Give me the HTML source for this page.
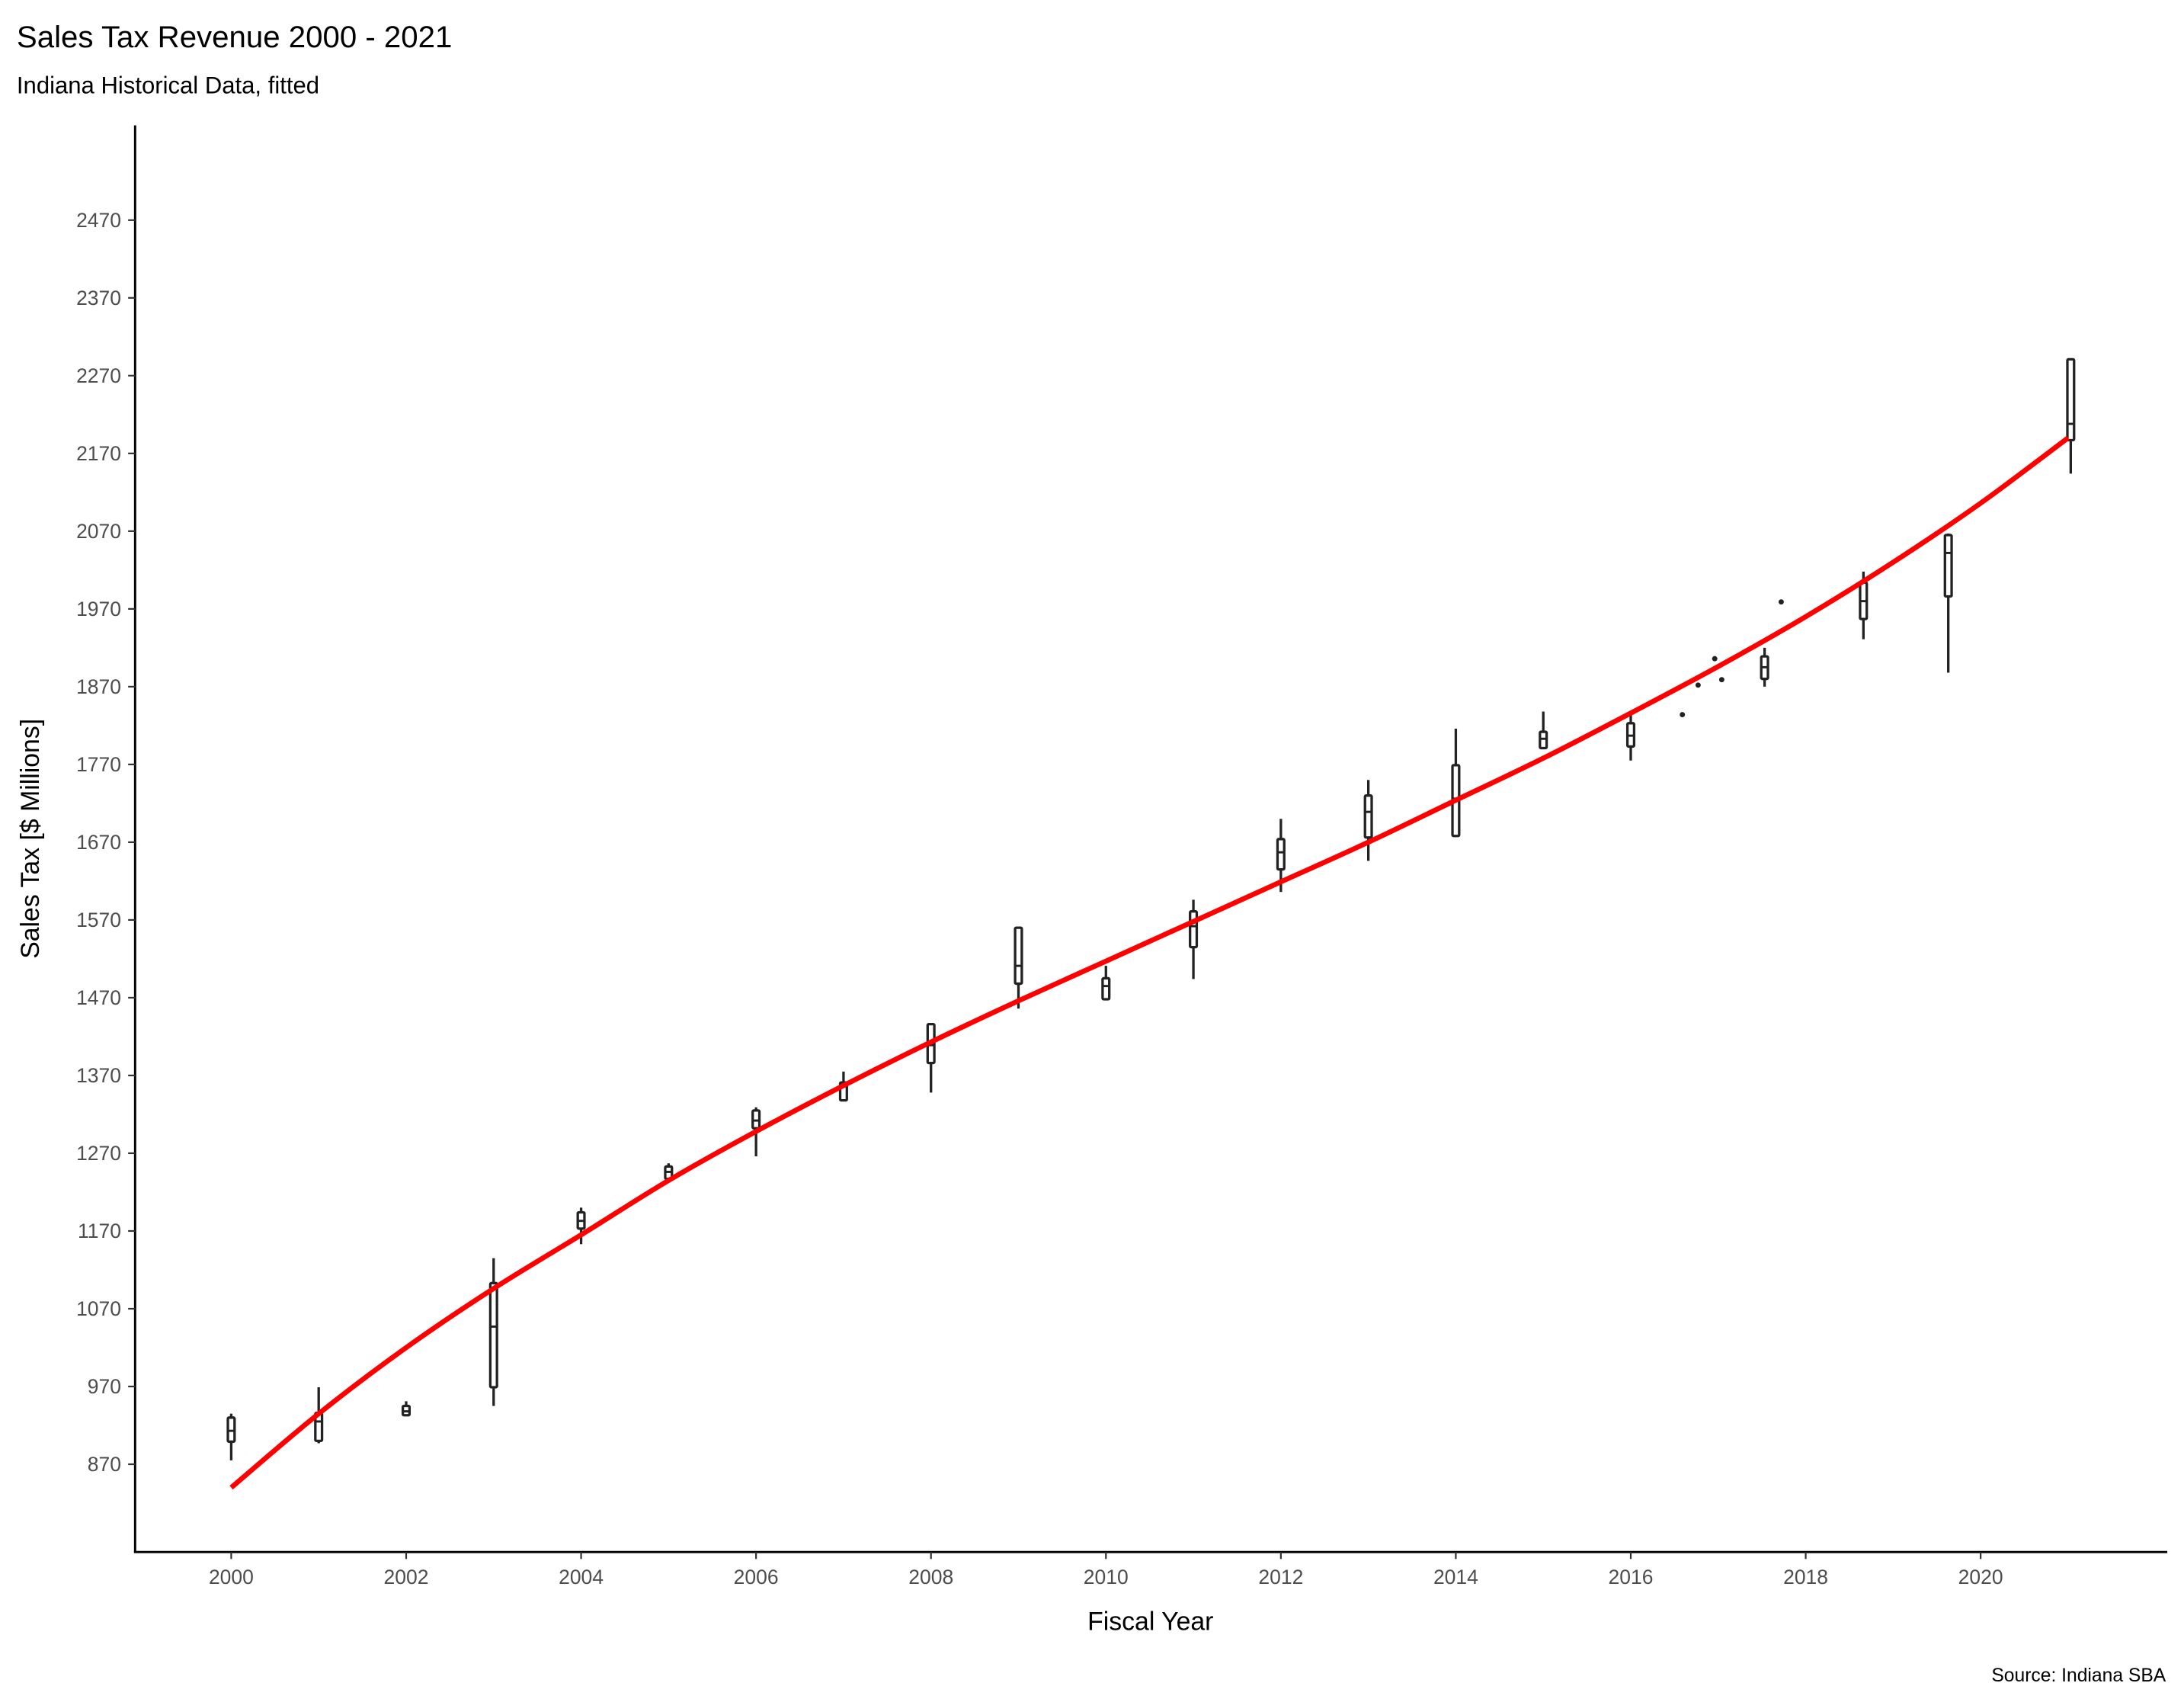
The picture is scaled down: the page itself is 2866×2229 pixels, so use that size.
<!DOCTYPE html>
<html><head><meta charset="utf-8"><style>
html,body{margin:0;padding:0;background:#fff;}
svg{display:block;font-family:"Liberation Sans",Arial,sans-serif;}
</style></head><body>
<svg id="chart" width="2866" height="2229" viewBox="0 0 1568 1219.5" xmlns="http://www.w3.org/2000/svg">
<rect width="1568" height="1219.5" fill="#fff"/>
<text x="12" y="34" font-size="22" fill="#000">Sales Tax Revenue 2000 - 2021</text>
<text x="12" y="67" font-size="17" fill="#000">Indiana Historical Data, fitted</text>
<g id="plot"></g>
<text x="826" y="1170" font-size="18.5" text-anchor="middle" fill="#000">Fiscal Year</text>
<text transform="translate(28,602) rotate(-90)" font-size="18.5" text-anchor="middle" fill="#000">Sales Tax [$ Millions]</text>
<text x="1555" y="1207" font-size="13.5" text-anchor="end" fill="#000">Source: Indiana SBA</text>
</svg>
<script>
const yTicks = [870,970,1070,1170,1270,1370,1470,1570,1670,1770,1870,1970,2070,2170,2270,2370,2470];
const xTicks = [2000,2002,2004,2006,2008,2010,2012,2014,2016,2018,2020];
const boxYears = [2000,2001,2002,2003,2004,2005,2006,2007,2008,2009,2010,2011,2012,2013,2014,2015,2016,2017.53,2018.66,2019.63,2021.03];
const whiskLow = [875,897,933,945,1153,1234,1266,1338,1348,1456,1468,1494,1606,1646,1678,1791,1775,1870,1931,1888,2144];
const boxLow = [899,900,933,969,1173,1237,1302,1338,1386,1488,1468,1535,1635,1676,1678,1791,1793,1880,1957,1986,2187];
const medians = [913,925,938,1047,1183,1246,1312,1356,1409,1511,1485,1562,1657,1709,1726,1803,1807,1895,1980,2042,2208];
const boxHigh = [930,936,945,1103,1194,1253,1325,1361,1436,1560,1495,1581,1674,1730,1769,1812,1823,1909,2004,2065,2291];
const whiskHigh = [935,969,951,1135,1200,1257,1329,1375,1436,1560,1511,1596,1700,1750,1816,1838,1834,1920,2018,2067,2291];
const pointYears = [2016.59,2016.77,2016.96,2017.04,2017.72];
const pointValues = [1834,1872,1906,1879,1979];
const fitYears = [2000,2001,2002,2003,2004,2005,2006,2007,2008,2009,2010,2011,2012,2013,2014,2015,2016,2017,2018,2019,2020,2021];
const fitValues = [840,935,1020,1096,1165,1235,1298,1357,1413,1466,1517,1568,1619,1670,1724,1778,1836,1896,1960,2030,2106,2190];

const NS = "http://www.w3.org/2000/svg";
const X = yr => 166 + (yr - 2000) * 62.8;
const Y = v => 1051 - (v - 870) * 0.558125;
const g = document.getElementById('plot');
function mk(tag, attrs, parent){ const e = document.createElementNS(NS, tag); for (const k in attrs) e.setAttribute(k, attrs[k]); (parent||g).appendChild(e); return e; }

let ax = mk('line',{x1:97,y1:90,x2:97,y2:1114.5,stroke:'#000','stroke-width':1.6});


ax = mk('line',{x1:96.2,y1:1114,x2:1556,y2:1114,stroke:'#000','stroke-width':1.6});



yTicks.forEach(v => {
  const t = mk('line',{x1:92,x2:97,y1:Y(v),y2:Y(v),stroke:'#333','stroke-width':1.2});
  
  
  const l = mk('text',{x:87,y:Y(v)+5,'font-size':14.5,'text-anchor':'end',fill:'#4d4d4d'});
  l.textContent = v;
  
  
});
xTicks.forEach(v => {
  const t = mk('line',{x1:X(v),x2:X(v),y1:1114,y2:1119,stroke:'#333','stroke-width':1.2});
  
  
  const l = mk('text',{x:X(v),y:1137,'font-size':14.5,'text-anchor':'middle',fill:'#4d4d4d'});
  l.textContent = v;
  
  
});

boxYears.forEach((yr,i) => {
  const bg = mk('g',{});
  
  
  const cx = X(yr);
  mk('line',{x1:cx,x2:cx,y1:Y(whiskHigh[i]),y2:Y(boxHigh[i]),stroke:'#222','stroke-width':1.8},bg);
  mk('line',{x1:cx,x2:cx,y1:Y(boxLow[i]),y2:Y(whiskLow[i]),stroke:'#222','stroke-width':1.8},bg);
  const h = Math.max(Y(boxLow[i]) - Y(boxHigh[i]), 1);
  mk('rect',{x:cx-2.4,y:Y(boxHigh[i]),width:4.8,height:h,fill:'#fff',stroke:'#222','stroke-width':1.8,rx:0.8},bg);
  mk('line',{x1:cx-2.4,x2:cx+2.4,y1:Y(medians[i]),y2:Y(medians[i]),stroke:'#222','stroke-width':1.6},bg);
});
pointYears.forEach((yr,i) => {
  const c = mk('circle',{cx:X(yr),cy:Y(pointValues[i]),r:1.9,fill:'#222'});
  
  
});

// fitted line (Catmull-Rom smoothing through fitted values)
const pts = fitYears.map((yr,i) => [X(yr), Y(fitValues[i])]);
let d = 'M' + pts[0][0] + ',' + pts[0][1];
for (let i = 0; i < pts.length - 1; i++) {
  const p0 = pts[Math.max(i-1,0)], p1 = pts[i], p2 = pts[i+1], p3 = pts[Math.min(i+2,pts.length-1)];
  const c1 = [p1[0] + (p2[0]-p0[0])/6, p1[1] + (p2[1]-p0[1])/6];
  const c2 = [p2[0] - (p3[0]-p1[0])/6, p2[1] - (p3[1]-p1[1])/6];
  d += ' C' + c1.join(',') + ' ' + c2.join(',') + ' ' + p2.join(',');
}
const fl = mk('path',{d:d,fill:'none',stroke:'#ff0000','stroke-width':3.6,'stroke-linejoin':'round'});


</script>
</body></html>
